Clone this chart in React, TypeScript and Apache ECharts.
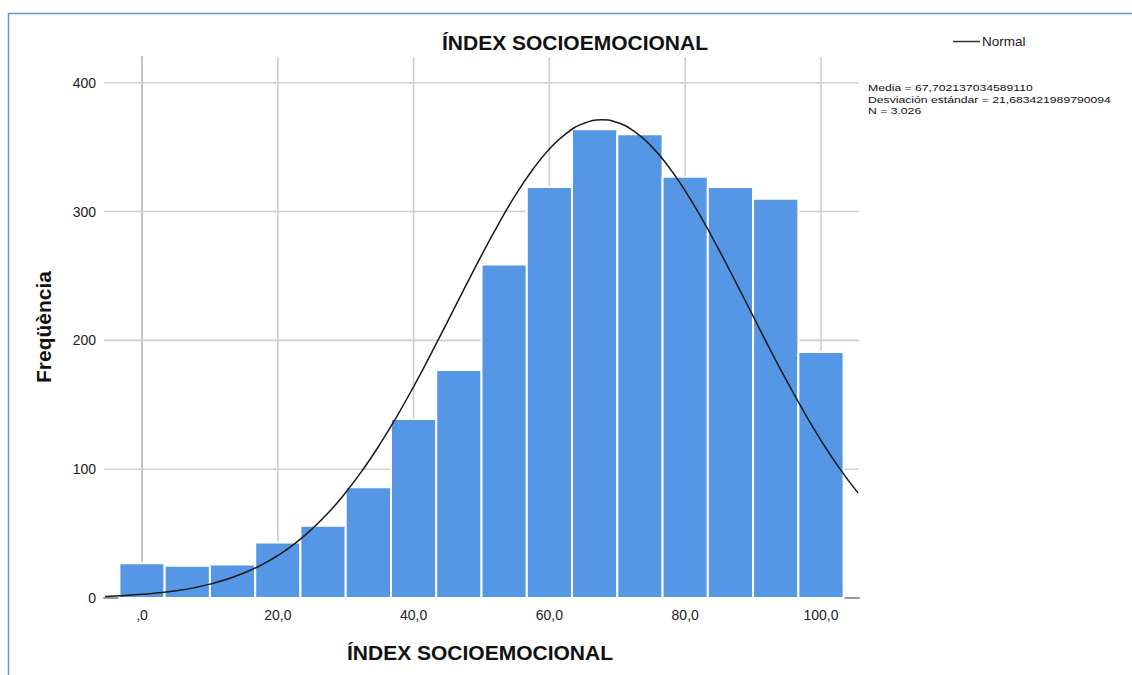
import React, { useEffect, useRef } from "react";
import * as echarts from "echarts";

const binStart = [-3.33, 3.33, 10, 16.67, 23.33, 30, 36.67, 43.33, 50, 56.67, 63.33, 70, 76.67, 83.33, 90, 96.67];
const binEnd = [3.33, 10, 16.67, 23.33, 30, 36.67, 43.33, 50, 56.67, 63.33, 70, 76.67, 83.33, 90, 96.67, 103.33];
const counts = [27, 25, 26, 43, 56, 86, 139, 177, 259, 319, 364, 360, 327, 319, 310, 191];

const curveX = [-5.44, -2.5, 0, 2.5, 5, 7.5, 10, 12.5, 15, 17.5, 20, 22.5, 25, 27.5, 30, 32.5, 35, 37.5, 40, 42.5, 45, 47.5, 50, 52.5, 55, 57.5, 60, 62.5, 65, 67.7, 70, 72.5, 75, 77.5, 80, 82.5, 85, 87.5, 90, 92.5, 95, 97.5, 100, 102.5, 105.44];
const curveY = [1.25, 1.97, 2.84, 4.04, 5.67, 7.87, 10.76, 14.53, 19.36, 25.45, 33.0, 42.2, 53.4, 66.5, 81.9, 99.4, 119.0, 140.7, 164.1, 188.9, 214.6, 240.5, 266.0, 290.3, 312.7, 332.3, 348.5, 360.7, 368.3, 371.2, 369.1, 362.2, 350.8, 335.2, 316.1, 294.1, 270.0, 244.7, 218.8, 193.0, 168.1, 144.4, 122.4, 102.4, 81.6];

const gridXTicks = [0, 20, 40, 60, 80, 100];
const gridYTicks = [100, 200, 300, 400];

const chartTitle = "ÍNDEX SOCIOEMOCIONAL";
const xTitle = "ÍNDEX SOCIOEMOCIONAL";
const yTitle = "Freqüència";
const legendLabel = "Normal";
const statLines = [
  "Media = 67,702137034589110",
  "Desviación estándar = 21,683421989790094",
  "N = 3.026",
];

const FONT = "'Liberation Sans', Arial, sans-serif";

export default function App() {
  const ref = useRef<HTMLDivElement>(null);

  useEffect(() => {
    if (!ref.current) return;
    const chart = echarts.init(ref.current, null, { renderer: "svg" });

    const barData = counts.map((c, i) => [binStart[i], binEnd[i], c]);
    const curveData = curveX.map((x, i) => [x, curveY[i]]);

    const option: any = {
      animation: false,
      backgroundColor: "#ffffff",
      grid: { left: 104, right: 273, top: 57, bottom: 77, containLabel: false },
      xAxis: {
        type: "value",
        min: -5.6,
        max: 105.6,
        axisLine: { show: true, lineStyle: { color: "#999999", width: 2 } },
        axisTick: { show: false },
        splitLine: { show: false },
        axisLabel: {
          color: "#222222",
          fontSize: 14,
          fontFamily: FONT,
          margin: 10,
          showMinLabel: false,
          showMaxLabel: false,
          formatter: (v: number) => {
            if (Math.abs(v % 20) > 1e-9) return "";
            return v === 0 ? ",0" : v.toFixed(1).replace(".", ",");
          },
        },
      },
      yAxis: {
        type: "value",
        min: 0,
        max: 420,
        axisLine: { show: true, lineStyle: { color: "#999999", width: 2 } },
        axisTick: { show: false },
        splitLine: { show: false },
        axisLabel: {
          color: "#222222",
          fontSize: 14,
          fontFamily: FONT,
          margin: 8,
          showMaxLabel: false,
          formatter: (v: number) => (Math.abs(v % 100) > 1e-9 ? "" : String(v)),
        },
      },
      series: [
        {
          type: "custom",
          name: "gridX",
          z: 1,
          silent: true,
          data: gridXTicks.map((v) => [v, 0]),
          renderItem: (params: any, api: any) => {
            const cs = params.coordSys;
            const p = api.coord([api.value(0), 0]);
            return {
              type: "line",
              shape: { x1: p[0], y1: cs.y, x2: p[0], y2: cs.y + cs.height },
              style: { stroke: "#cfcfcf", lineWidth: 1.6 },
            };
          },
        },
        {
          type: "custom",
          name: "gridY",
          z: 1,
          silent: true,
          data: gridYTicks.map((v) => [0, v]),
          renderItem: (params: any, api: any) => {
            const cs = params.coordSys;
            const p = api.coord([0, api.value(1)]);
            return {
              type: "line",
              shape: { x1: cs.x, y1: p[1], x2: cs.x + cs.width, y2: p[1] },
              style: { stroke: "#cfcfcf", lineWidth: 1.6 },
            };
          },
        },
        {
          type: "custom",
          name: "bars",
          z: 2,
          data: barData,
          encode: { x: [0, 1], y: 2 },
          renderItem: (params: any, api: any) => {
            const p0 = api.coord([api.value(0), api.value(2)]);
            const p1 = api.coord([api.value(1), 0]);
            return {
              type: "rect",
              shape: { x: p0[0], y: p0[1], width: p1[0] - p0[0], height: p1[1] - p0[1] },
              style: { fill: "#5596e5", stroke: "#ffffff", lineWidth: 2 },
            };
          },
        },
        {
          type: "line",
          name: legendLabel,
          z: 3,
          data: curveData,
          smooth: true,
          symbol: "none",
          lineStyle: { color: "#1a1a1a", width: 1.5 },
        },
      ],
      graphic: [
        {
          type: "rect",
          shape: { x: 8.5, y: 13.5, width: 1300, height: 800 },
          style: { fill: "none", stroke: "#5b9bd5", lineWidth: 1.5 },
          z: 0,
        },
        {
          type: "text",
          x: 575,
          y: 42,
          style: {
            text: chartTitle,
            fill: "#111111",
            font: `bold 21px ${FONT}`,
            textAlign: "center",
            textVerticalAlign: "middle",
          },
        },
        {
          type: "text",
          x: 480,
          y: 652,
          style: {
            text: xTitle,
            fill: "#111111",
            font: `bold 21px ${FONT}`,
            textAlign: "center",
            textVerticalAlign: "middle",
          },
        },
        {
          type: "text",
          x: 43,
          y: 327,
          rotation: Math.PI / 2,
          style: {
            text: yTitle,
            fill: "#111111",
            font: `bold 21px ${FONT}`,
            textAlign: "center",
            textVerticalAlign: "middle",
          },
        },
        {
          type: "line",
          shape: { x1: 953, y1: 41.5, x2: 980, y2: 41.5 },
          style: { stroke: "#333333", lineWidth: 1.5 },
        },
        {
          type: "text",
          x: 982,
          y: 41.5,
          style: {
            text: legendLabel,
            fill: "#222222",
            font: `13.5px ${FONT}`,
            textAlign: "left",
            textVerticalAlign: "middle",
          },
        },
        ...statLines.map((t, i) => ({
          type: "text",
          x: 868,
          y: [87.5, 99, 110.5][i],
          scaleY: 0.8,
          style: {
            text: t,
            fill: "#111111",
            font: `12.2px ${FONT}`,
            textAlign: "left",
            textVerticalAlign: "middle",
          },
        })),
      ],
    };

    chart.setOption(option);
    return () => chart.dispose();
  }, []);

  return (
    <div
      ref={ref}
      style={{ position: "absolute", left: 0, top: 0, width: 1132, height: 675, background: "#fff" }}
    />
  );
}
